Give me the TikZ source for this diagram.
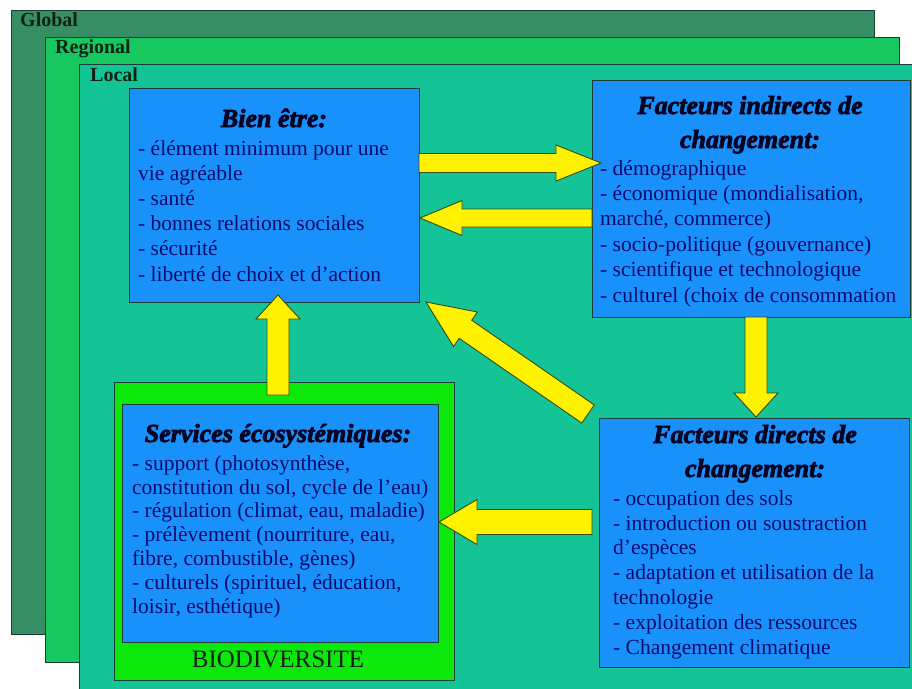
\documentclass[tikz,border=0pt]{standalone}
\usepackage{fontspec}
\setmainfont{Liberation Serif}
\newfontfamily\titlefont{Liberation Serif}[BoldItalicFeatures={FakeBold=3}]
\usetikzlibrary{calc}
\definecolor{globalc}{RGB}{56,142,100}
\definecolor{regionalc}{RGB}{22,200,95}
\definecolor{localc}{RGB}{20,196,150}
\definecolor{bluec}{RGB}{25,145,250}
\definecolor{biodivc}{RGB}{12,232,12}
\definecolor{edgec}{RGB}{25,60,55}
\definecolor{arrowedge}{RGB}{55,75,25}
\definecolor{itemc}{RGB}{10,10,110}
\definecolor{titlec}{RGB}{5,5,35}
\definecolor{labelc}{RGB}{15,35,20}
\tikzset{
  area/.style={draw=edgec, line width=1pt, anchor=north west, inner sep=0pt},
  bluebox/.style={area, fill=bluec},
  framelabel/.style={anchor=base west, inner sep=0pt, text=labelc, font=\fontsize{20}{24}\selectfont\bfseries},
  boxtitle/.style={anchor=base, inner sep=0pt, align=center, text=titlec, font=\fontsize{26}{34}\selectfont\titlefont\bfseries\itshape},
  itemtext/.style={anchor=base west, inner sep=0pt, align=left, text=itemc},
  yarrow/.style={draw=arrowedge, line width=0.9pt, fill=yellow, line join=miter},
}
% #1 tail, #2 tip, #3 shaft half width, #4 head half width, #5 head length
\newcommand{\blockarrow}[5]{%
  \path ($(#2)!#5!(#1)$) coordinate (hb);
  \draw[yarrow] ($(#1)!#3!90:(#2)$) -- ($(hb)!#3!90:(#2)$) -- ($(hb)!#4!90:(#2)$)
     -- (#2) -- ($(hb)!#4!-90:(#2)$) -- ($(hb)!#3!-90:(#2)$) -- ($(#1)!#3!-90:(#2)$) -- cycle;
}
\begin{document}
\begin{tikzpicture}[x=1pt,y=-1pt]
\useasboundingbox (0,0) rectangle (912,688);
\fill[white] (0,0) rectangle (912,688);
% nested scale frames
\node[area, fill=globalc, minimum width=863pt, minimum height=624.5pt] (global) at (10.5,9.5) {};
\node[area, fill=regionalc, minimum width=854pt, minimum height=625pt] (regional) at (45,37) {};
\node[area, fill=localc, minimum width=860pt, minimum height=640pt] (local) at (79,64) {};
\node[framelabel] (lglobal) at (20,27) {Global};
\node[framelabel] (lregional) at (55,53) {Regional};
\node[framelabel] (llocal) at (90,81) {Local};
% boxes
\node[bluebox, minimum width=290pt, minimum height=214pt] (bien) at (129,88) {};
\node[bluebox, minimum width=318pt, minimum height=237pt] (indirect) at (592,80) {};
\node[bluebox, minimum width=310pt, minimum height=249pt] (direct) at (599,418) {};
\node[area, fill=biodivc, minimum width=340pt, minimum height=298pt] (biodiv) at (114,382) {};
\node[bluebox, minimum width=316pt, minimum height=238pt] (services) at (122,404) {};
% texts (base anchor = baseline of the last line)
\node[boxtitle] (tbien) at (274,127) {Bien être:};
\node[itemtext, font=\fontsize{21.5}{25.2}\selectfont] (ibien) at (138,281) {- élément minimum pour une\\vie agréable\\- santé\\- bonnes relations sociales\\- sécurité\\- liberté de choix et d’action};
\node[boxtitle] (tindirect) at (750,148) {Facteurs indirects de\\changement:};
\node[itemtext, font=\fontsize{21.5}{25.4}\selectfont] (iindirect) at (600,302) {- démographique\\- économique (mondialisation,\\marché, commerce)\\- socio-politique (gouvernance)\\- scientifique et technologique\\- culturel (choix de consommation};
\node[boxtitle] (tdirect) at (755,477) {Facteurs directs de\\changement:};
\node[itemtext, font=\fontsize{21.5}{24.8}\selectfont] (idirect) at (613,654) {- occupation des sols\\- introduction ou soustraction\\d’espèces\\- adaptation et utilisation de la\\technologie\\- exploitation des ressources\\- Changement climatique};
\node[boxtitle] (tservices) at (278,442) {Services écosystémiques:};
\node[itemtext, font=\fontsize{21.5}{23.8}\selectfont] (iservices) at (132,613) {- support (photosynthèse,\\constitution du sol, cycle de l’eau)\\- régulation (climat, eau, maladie)\\- prélèvement (nourriture, eau,\\fibre, combustible, gènes)\\- culturels (spirituel, éducation,\\loisir, esthétique)};
\node[anchor=base, inner sep=0pt, text=labelc, font=\fontsize{25}{30}\selectfont] (lbiodiv) at (278,667) {BIODIVERSITE};
% arrow end points
\coordinate (a1s) at (419,163); \coordinate (a1e) at (601,163);
\coordinate (a2s) at (592,218); \coordinate (a2e) at (420,218);
\coordinate (a3s) at (756,317); \coordinate (a3e) at (756,417);
\coordinate (a4s) at (588,414); \coordinate (a4e) at (426,302);
\coordinate (a5s) at (592,522); \coordinate (a5e) at (439,522);
\coordinate (a6s) at (278,395); \coordinate (a6e) at (278,295);
\blockarrow{a1s}{a1e}{9.5pt}{18pt}{45pt}
\blockarrow{a2s}{a2e}{9pt}{17.5pt}{42pt}
\blockarrow{a3s}{a3e}{11pt}{22pt}{24pt}
\blockarrow{a4s}{a4e}{11pt}{21pt}{48pt}
\blockarrow{a5s}{a5e}{12.5pt}{22.5pt}{38pt}
\blockarrow{a6s}{a6e}{11pt}{22pt}{24pt}
\end{tikzpicture}
\end{document}
